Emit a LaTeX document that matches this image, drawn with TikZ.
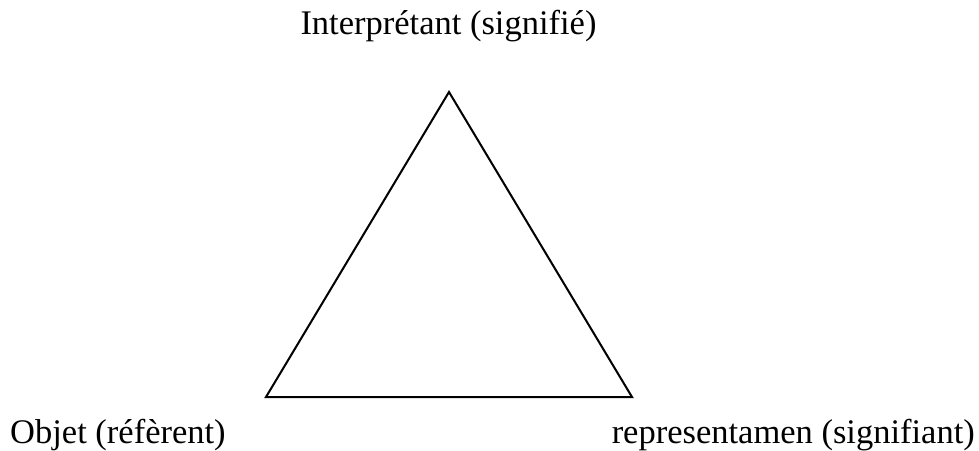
\documentclass[tikz,border=0pt]{standalone}
\usepackage{fontspec}
\setmainfont{Liberation Serif}
\usepackage{tikz}

\begin{document}
\begin{tikzpicture}[x=1pt, y=1pt]

      \def\apexX{449}
      \def\apexY{358}
      \def\baseY{53}
      \def\leftX{266}
      \def\rightX{632}

      \tikzset{label text/.style={font=\fontsize{34.5}{40}\selectfont, inner sep=0pt, anchor=base}}

      \useasboundingbox (0,0) rectangle (979,450);

      \coordinate (interp) at (\apexX, \apexY);
      \coordinate (objet)  at (\leftX, \baseY);
      \coordinate (repr)   at (\rightX, \baseY);

      \draw[black, line width=2pt, line join=miter] (interp) -- (objet) -- (repr) -- cycle;

      \node[label text]                   (interpLabel) at (448.5, 415) {Interprétant (signifié)};
      \node[label text, anchor=base west] (objetLabel)  at (10, 7)      {Objet (réfèrent)};
      \node[label text, anchor=base east] (reprLabel)   at (975, 7)     {representamen (signifiant)};

    \end{tikzpicture}
\end{document}
